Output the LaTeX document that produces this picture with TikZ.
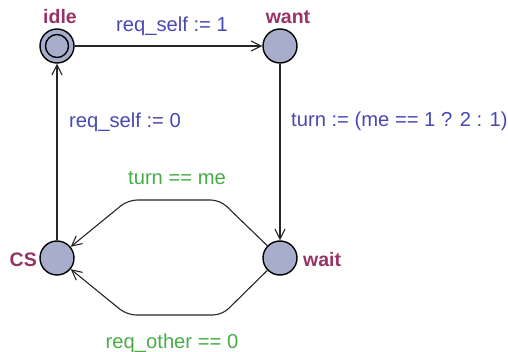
\documentclass[tikz,border=0pt]{standalone}
\usepackage{fontspec}
\setmainfont{Liberation Sans}
\usetikzlibrary{arrows.meta,positioning}
\usepackage{xcolor}
\definecolor{LocFill}{RGB}{166,174,204}
\definecolor{LocName}{RGB}{150,50,100}
\definecolor{GuardGreen}{RGB}{72,172,72}
\definecolor{AssignBlue}{RGB}{72,72,178}
\tikzset{
  location/.style={draw=black, circle, fill=LocFill, line width=1.4pt,
    minimum size=34pt, inner sep=0pt},
  initloc/.style={location, path picture={
    \draw[line width=1.4pt] (path picture bounding box.center) circle (11.5pt);}},
  locname/.style={text=LocName, font=\fontsize{19.5}{22}\selectfont\bfseries,
    inner sep=0pt},
  guard/.style={text=GuardGreen, font=\fontsize{20.2}{22}\selectfont,
    inner sep=0pt},
  assign/.style={text=AssignBlue, font=\fontsize{20.2}{22}\selectfont,
    inner sep=0pt},
  trans/.style={draw=black!85, line width=1.1pt, rounded corners=9pt,
    -{Straight Barb[length=10pt,width=10pt]}}
}

\begin{document}
\begin{tikzpicture}[x=1pt,y=-1pt]
  \useasboundingbox (0,0) rectangle (508,352);

  % locations
  \node[initloc] (idle) at (57,46) {};
  \node[location] (want) at (280,46) {};
  \node[location] (wait) at (280,258) {};
  \node[location] (cs) at (57,258) {};

  \node[locname, anchor=base] (idlename) at (60,24) {idle};
  \node[locname, anchor=base] (wantname) at (288,24) {want};
  \node[locname, anchor=base east] (csname) at (37,267) {CS};
  \node[locname, anchor=base west] (waitname) at (303,267) {wait};

  % transitions
  \draw[trans] (idle) -- (want);
  \draw[trans] (want) -- (wait);
  \draw[trans] (cs) -- (idle);
  \draw[trans] (wait) -- (220,200) -- (128,200) -- (cs);
  \draw[trans] (wait) -- (222,315) -- (127,315) -- (cs);

  \node[assign, anchor=base] (setone) at (172,32) {req\_self := 1};
  \node[assign, anchor=base west] (setturn) at (291,127)
    {turn := (me == 1 ? 2 : 1)};
  \node[assign, anchor=base] (setzero) at (125,128) {req\_self := 0};
  \node[guard, anchor=base] (myturn) at (177,185) {turn == me};
  \node[guard, anchor=base] (nootherreq) at (172,348) {req\_other == 0};
\end{tikzpicture}
\end{document}
